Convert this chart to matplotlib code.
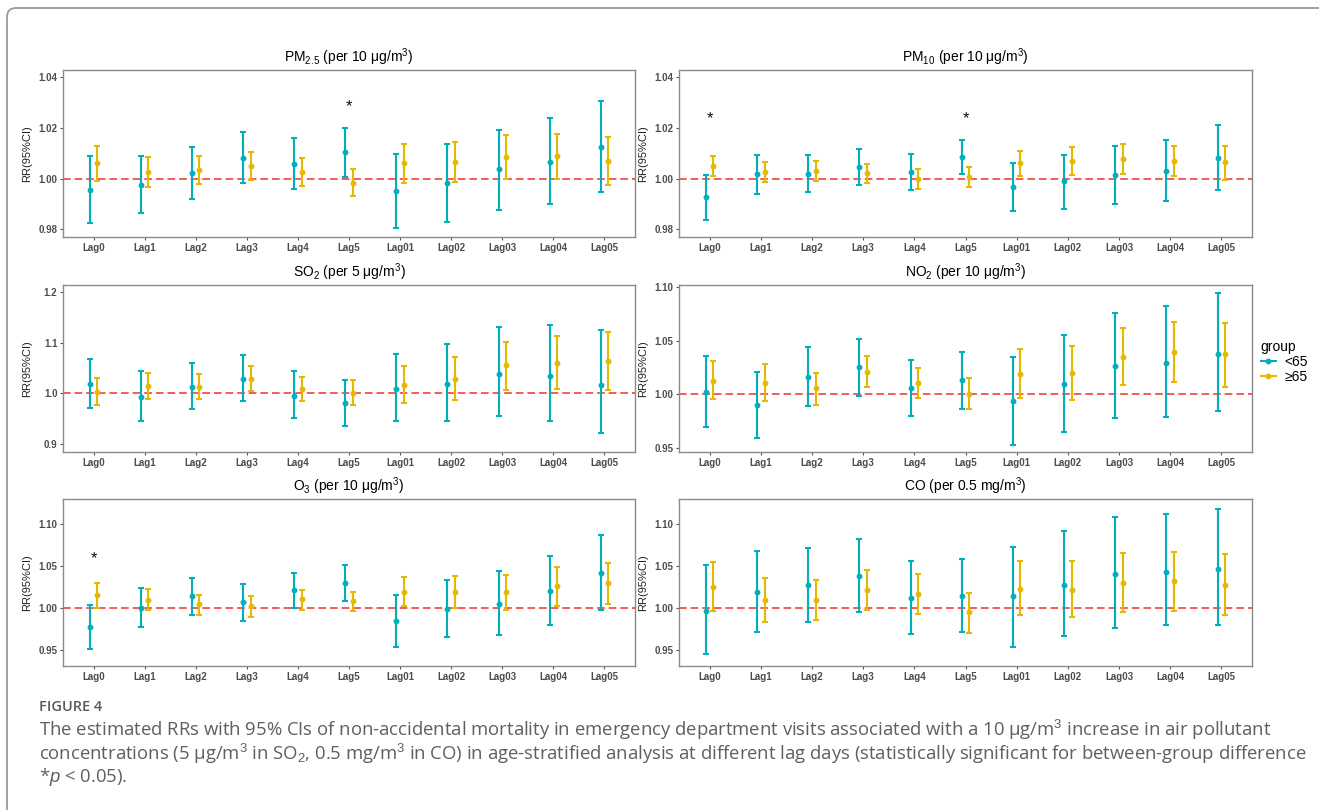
import numpy as np
import matplotlib
matplotlib.use("Agg")
import matplotlib.pyplot as plt
import matplotlib.transforms as mtransforms
from matplotlib.patches import FancyBboxPatch
from matplotlib.lines import Line2D

plt.rcParams["font.family"] = ["Liberation Sans", "DejaVu Sans"]
plt.rcParams["mathtext.fontset"] = "custom"
plt.rcParams["mathtext.rm"] = "Liberation Sans"
plt.rcParams["mathtext.it"] = "Liberation Sans:italic"
plt.rcParams["mathtext.bf"] = "Liberation Sans:bold"

lags = ["Lag0", "Lag1", "Lag2", "Lag3", "Lag4", "Lag5",
        "Lag01", "Lag02", "Lag03", "Lag04", "Lag05"]
groups = ["<65", "≥65"]

# ---- PM2.5 ----
pm25_y_rr = [0.9955, 0.9975, 1.0022, 1.0083, 1.0058, 1.0104, 0.9950, 0.9983, 1.0036, 1.0067, 1.0125]
pm25_y_lo = [0.9825, 0.9863, 0.9920, 0.9983, 0.9958, 1.0007, 0.9805, 0.9830, 0.9878, 0.9901, 0.9947]
pm25_y_hi = [1.0088, 1.0088, 1.0125, 1.0183, 1.0159, 1.0201, 1.0097, 1.0136, 1.0193, 1.0237, 1.0304]
pm25_o_rr = [1.0061, 1.0026, 1.0034, 1.0050, 1.0026, 0.9983, 1.0061, 1.0066, 1.0086, 1.0091, 1.0070]
pm25_o_lo = [0.9989, 0.9966, 0.9980, 0.9995, 0.9970, 0.9930, 0.9983, 0.9986, 0.9999, 0.9999, 0.9975]
pm25_o_hi = [1.0130, 1.0087, 1.0088, 1.0105, 1.0080, 1.0039, 1.0137, 1.0146, 1.0170, 1.0176, 1.0164]
pm25_star = {"Lag5": 1.0283}

# ---- PM10 ----
pm10_y_rr = [0.9926, 1.0017, 1.0017, 1.0045, 1.0025, 1.0087, 0.9968, 0.9989, 1.0013, 1.0032, 1.0082]
pm10_y_lo = [0.9838, 0.9941, 0.9946, 0.9974, 0.9954, 1.0020, 0.9871, 0.9882, 0.9900, 0.9911, 0.9954]
pm10_y_hi = [1.0014, 1.0093, 1.0093, 1.0116, 1.0096, 1.0151, 1.0063, 1.0095, 1.0130, 1.0154, 1.0212]
pm10_o_rr = [1.0051, 1.0028, 1.0032, 1.0022, 0.9999, 1.0005, 1.0060, 1.0070, 1.0078, 1.0070, 1.0064]
pm10_o_lo = [1.0012, 0.9988, 0.9992, 0.9983, 0.9959, 0.9966, 1.0012, 1.0013, 1.0017, 1.0009, 0.9996]
pm10_o_hi = [1.0091, 1.0067, 1.0071, 1.0059, 1.0036, 1.0045, 1.0107, 1.0124, 1.0136, 1.0130, 1.0130]
pm10_star = {"Lag0": 1.0236, "Lag5": 1.0236}

# ---- SO2 ----
so2_y_rr = [1.018, 0.992, 1.012, 1.029, 0.995, 0.980, 1.009, 1.019, 1.039, 1.035, 1.017]
so2_y_lo = [0.970, 0.945, 0.968, 0.985, 0.951, 0.936, 0.945, 0.945, 0.956, 0.945, 0.921]
so2_y_hi = [1.068, 1.043, 1.059, 1.076, 1.043, 1.027, 1.077, 1.098, 1.130, 1.134, 1.124]
so2_o_rr = [1.003, 1.015, 1.013, 1.028, 1.008, 1.001, 1.016, 1.029, 1.055, 1.060, 1.063]
so2_o_lo = [0.976, 0.989, 0.989, 1.004, 0.984, 0.977, 0.981, 0.987, 1.007, 1.009, 1.007]
so2_o_hi = [1.031, 1.041, 1.038, 1.053, 1.033, 1.026, 1.053, 1.071, 1.101, 1.113, 1.121]

# ---- NO2 ----
no2_y_rr = [1.0025, 0.9900, 1.0165, 1.0253, 1.0056, 1.0134, 0.9935, 1.0097, 1.0265, 1.0293, 1.0381]
no2_y_lo = [0.9694, 0.9591, 0.9891, 0.9984, 0.9797, 0.9869, 0.9526, 0.9651, 0.9782, 0.9788, 0.9844]
no2_y_hi = [1.0362, 1.0212, 1.0443, 1.0521, 1.0321, 1.0399, 1.0350, 1.0555, 1.0764, 1.0827, 1.0951]
no2_o_rr = [1.0128, 1.0109, 1.0056, 1.0206, 1.0106, 1.0009, 1.0187, 1.0197, 1.0352, 1.0399, 1.0374]
no2_o_lo = [0.9956, 0.9938, 0.9906, 1.0069, 0.9963, 0.9866, 0.9966, 0.9950, 1.0087, 1.0115, 1.0072]
no2_o_hi = [1.0312, 1.0281, 1.0203, 1.0359, 1.0250, 1.0150, 1.0421, 1.0452, 1.0624, 1.0680, 1.0671]

# ---- O3 ----
o3_y_rr = [0.9772, 1.0000, 1.0138, 1.0067, 1.0209, 1.0295, 0.9846, 0.9988, 1.0051, 1.0197, 1.0413]
o3_y_lo = [0.9516, 0.9776, 0.9921, 0.9850, 1.0000, 1.0087, 0.9539, 0.9654, 0.9685, 0.9803, 0.9972]
o3_y_hi = [1.0039, 1.0236, 1.0354, 1.0283, 1.0413, 1.0508, 1.0157, 1.0335, 1.0433, 1.0618, 1.0866]
o3_o_rr = [1.0155, 1.0098, 1.0047, 1.0020, 1.0102, 1.0079, 1.0189, 1.0189, 1.0185, 1.0256, 1.0295]
o3_o_lo = [1.0000, 0.9972, 0.9921, 0.9898, 0.9980, 0.9961, 1.0020, 1.0000, 0.9980, 1.0028, 1.0051]
o3_o_hi = [1.0300, 1.0220, 1.0157, 1.0138, 1.0217, 1.0189, 1.0366, 1.0382, 1.0394, 1.0480, 1.0539]
o3_star = {"Lag0": 1.059}

# ---- CO ----
co_y_rr = [0.9968, 1.0186, 1.0269, 1.0379, 1.0119, 1.0146, 1.0138, 1.0277, 1.0403, 1.0431, 1.0466]
co_y_lo = [0.9455, 0.9715, 0.9830, 0.9953, 0.9696, 0.9723, 0.9545, 0.9672, 0.9763, 0.9802, 0.9802]
co_y_hi = [1.0514, 1.0672, 1.0711, 1.0822, 1.0553, 1.0581, 1.0723, 1.0917, 1.1079, 1.1115, 1.1174]
co_o_rr = [1.0249, 1.0091, 1.0099, 1.0217, 1.0170, 0.9949, 1.0229, 1.0217, 1.0296, 1.0316, 1.0273]
co_o_lo = [0.9960, 0.9834, 0.9862, 0.9980, 0.9933, 0.9711, 0.9913, 0.9889, 0.9949, 0.9968, 0.9913]
co_o_hi = [1.0541, 1.0352, 1.0336, 1.0455, 1.0407, 1.0178, 1.0553, 1.0553, 1.0652, 1.0668, 1.0636]

BLUE, GOLD = "#00AFBB", "#E7B800"
W, H = 1319, 810

panels = [
    ("PM$_{2.5}$ (per 10 μg/m$^{3}$)", (pm25_y_rr, pm25_y_lo, pm25_y_hi), (pm25_o_rr, pm25_o_lo, pm25_o_hi),
     pm25_star, (0.977, 1.0428), [0.98, 1.00, 1.02, 1.04], "%.2f"),
    ("PM$_{10}$ (per 10 μg/m$^{3}$)", (pm10_y_rr, pm10_y_lo, pm10_y_hi), (pm10_o_rr, pm10_o_lo, pm10_o_hi),
     pm10_star, (0.977, 1.0428), [0.98, 1.00, 1.02, 1.04], "%.2f"),
    ("SO$_{2}$ (per 5 μg/m$^{3}$)", (so2_y_rr, so2_y_lo, so2_y_hi), (so2_o_rr, so2_o_lo, so2_o_hi),
     {}, (0.884, 1.2138), [0.9, 1.0, 1.1, 1.2], "%.1f"),
    ("NO$_{2}$ (per 10 μg/m$^{3}$)", (no2_y_rr, no2_y_lo, no2_y_hi), (no2_o_rr, no2_o_lo, no2_o_hi),
     {}, (0.9463, 1.1022), [0.95, 1.00, 1.05, 1.10], "%.2f"),
    ("O$_{3}$ (per 10 μg/m$^{3}$)", (o3_y_rr, o3_y_lo, o3_y_hi), (o3_o_rr, o3_o_lo, o3_o_hi),
     o3_star, (0.9315, 1.129), [0.95, 1.00, 1.05, 1.10], "%.2f"),
    ("CO (per 0.5 mg/m$^{3}$)", (co_y_rr, co_y_lo, co_y_hi), (co_o_rr, co_o_lo, co_o_hi),
     {}, (0.9315, 1.129), [0.95, 1.00, 1.05, 1.10], "%.2f"),
]

# axes boxes in pixels: (left, right) per column, (top, bottom) per row
cols = [(63, 635), (679, 1252)]
rows = [(70, 237), (285, 452), (499, 666)]

fig = plt.figure(figsize=(W / 100, H / 100), dpi=100)

# outer frame (only left/top edges fall inside the picture)
frame = FancyBboxPatch((7, -40), W + 60, H - 8 + 40, boxstyle="round,pad=0,rounding_size=9",
                       transform=mtransforms.IdentityTransform(), fill=False,
                       edgecolor="#9a9a9a", lw=1.3)
fig.patches.append(frame)

x = np.arange(len(lags))
dodge = 0.072
for i, (title, yg, og, stars, ylim, yticks, fmt) in enumerate(panels):
    (cl, cr), (rt, rb) = cols[i % 2], rows[i // 2]
    ax = fig.add_axes([cl / W, 1 - rb / H, (cr - cl) / W, (rb - rt) / H])
    ax.axhline(1.0, color="#F2302B", ls=(0, (5, 2.6)), lw=1.1, zorder=1)
    for (rr, lo, hi), col, off in ((yg, BLUE, -dodge), (og, GOLD, dodge)):
        rr, lo, hi = map(np.asarray, (rr, lo, hi))
        ax.errorbar(x + off, rr, yerr=[rr - lo, hi - rr], fmt="o", ms=3.2, color=col,
                    ecolor=col, elinewidth=1.5, capsize=2.3, capthick=1.5, zorder=3)
    for lag, ys in stars.items():
        ax.text(lags.index(lag), ys, "*", ha="center", va="center", fontsize=12, color="#111")
    ax.set_xlim(-0.6, len(lags) - 0.4)
    ax.set_ylim(*ylim)
    ax.set_xticks(x)
    ax.set_xticklabels(lags)
    ax.set_yticks(yticks)
    ax.set_yticklabels([fmt % t for t in yticks])
    for lab in ax.get_xticklabels() + ax.get_yticklabels():
        lab.set_fontweight("bold")
    ax.tick_params(axis="both", length=2.5, width=0.8, color="#555555", labelsize=7,
                   labelcolor="#4D4D4D", pad=1.5)
    for s in ax.spines.values():
        s.set_color("#8a8a8a")
        s.set_linewidth(1.0)
    ax.set_title(title, fontsize=10, pad=6)
    ax.set_ylabel("RR(95%CI)", fontsize=8, color="#222222")
    ax.yaxis.set_label_coords(-0.054, 0.5)

handles = [Line2D([0], [0], color=BLUE, marker="o", ms=3.2, lw=1.5),
           Line2D([0], [0], color=GOLD, marker="o", ms=3.2, lw=1.5)]
fig.legend(handles, groups, title="group", loc="upper left",
           bbox_to_anchor=(1255 / W, 1 - 334 / H), frameon=False, fontsize=10,
           title_fontsize=10, handlelength=1.1, handletextpad=0.6,
           labelspacing=0.1, alignment="left", borderaxespad=0)

# caption
cap_font = ["Open Sans", "DejaVu Sans"]
fig.text(39 / W, 1 - 707 / H, "FIGURE 4", fontsize=10.5, fontweight="semibold",
         color="#5a5a5a", va="center", family=cap_font)
cap_lines = [
    "The estimated RRs with 95% CIs of non-accidental mortality in emergency department visits "
    "associated with a 10 μg/m$^{3}$ increase in air pollutant",
    "concentrations (5 μg/m$^{3}$ in SO$_{2}$, 0.5 mg/m$^{3}$ in CO) in age-stratified analysis at "
    "different lag days (statistically significant for between-group difference",
    "*$p$ < 0.05).",
]
cap = [fig.text(39 / W, 1 - (730 + 23.5 * k) / H, line, fontsize=12.4, color="#5f5f5f",
                va="center", family=cap_font) for k, line in enumerate(cap_lines)]
# stretch the caption so its second line spans the same width as in the figure
fig.canvas.draw()
wid = cap[1].get_window_extent(fig.canvas.get_renderer()).width
for t in cap:
    t.set_fontsize(t.get_fontsize() * 1273 / wid)

fig.savefig("out.png", dpi=100)
